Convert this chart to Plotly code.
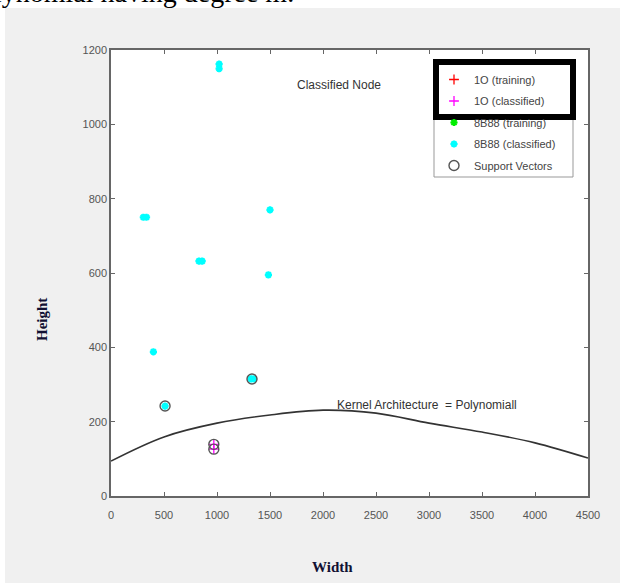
import plotly.graph_objects as go

# ---- data ----
x_ticks = [0, 500, 1000, 1500, 2000, 2500, 3000, 3500, 4000, 4500]
x_tick_labels = ["0", "500", "1000", "1500", "2000", "2500", "3000", "3500", "4000", "4500"]
y_ticks = [0, 200, 400, 600, 800, 1000, 1200]

o_train_x = [None]
o_train_y = [None]
o_class_x = [970, 970]
o_class_y = [139, 126]

b_train_x = [None]
b_train_y = [None]
b_class_x = [1020, 1020, 305, 335, 1500, 830, 860, 1485, 400, 510, 1320, 1345]
b_class_y = [1162, 1150, 750, 750, 770, 632, 632, 595, 388, 242, 315, 315]

sv_x = [510, 1330, 970, 970]
sv_y = [242, 315, 139, 126]

curve_x = [0, 500, 1000, 1500, 2000, 2500, 3000, 3500, 4000, 4500]
curve_y = [94, 159, 196, 218, 231, 223, 196, 172, 143, 102]

# ---- figure ----
W, H = 620, 583
L, R, T, B = 111, 32, 50, 87
PW, PH = W - L - R, H - T - B


def px(xp):
    return (xp - L) / PW


def py(yp):
    return (H - B - yp) / PH


fig = go.Figure()
fig.add_trace(go.Scatter(x=curve_x, y=curve_y, mode="lines", line=dict(color="#333333", width=1.6, shape="spline"),
                         showlegend=False, hoverinfo="skip"))
fig.add_trace(go.Scatter(x=o_train_x, y=o_train_y, mode="markers", name="1O (training)", legendgroup="a",
                         marker=dict(symbol="cross-thin", size=7, color="red", line=dict(color="red", width=1.3))))
fig.add_trace(go.Scatter(x=o_class_x, y=o_class_y, mode="markers", name="1O (classified)", legendgroup="b",
                         marker=dict(symbol="cross-thin", size=7, color="magenta",
                                     line=dict(color="magenta", width=1.3))))
fig.add_trace(go.Scatter(x=b_train_x, y=b_train_y, mode="markers", name="8B88 (training)", legendgroup="c",
                         marker=dict(symbol="asterisk", size=6, color="#00ee00", line=dict(color="#00ee00", width=2))))
fig.add_trace(go.Scatter(x=b_class_x, y=b_class_y, mode="markers", name="8B88 (classified)", legendgroup="d",
                         marker=dict(symbol="asterisk", size=6, color="cyan", line=dict(color="cyan", width=2.2))))
fig.add_trace(go.Scatter(x=sv_x, y=sv_y, mode="markers", name="Support Vectors", legendgroup="e",
                         marker=dict(symbol="circle-open", size=10, color="#555555",
                                     line=dict(color="#555555", width=1.4))))

axis_common = dict(showgrid=False, zeroline=False, showline=True, mirror="ticks", linecolor="#666666",
                   linewidth=1.5, ticks="inside", ticklen=4, tickcolor="#666666",
                   tickfont=dict(family="Arial", size=11, color="#555555"))

fig.update_xaxes(range=[0, 4500], tickvals=x_ticks, ticktext=x_tick_labels, ticklabelstandoff=8, **axis_common)
fig.update_yaxes(range=[0, 1200], tickvals=y_ticks, **axis_common)

fig.update_layout(
    width=W, height=H,
    margin=dict(l=L, r=R, t=T, b=B, autoexpand=False),
    paper_bgcolor="#f0f0f0", plot_bgcolor="white",
    font=dict(family="Arial", color="#333333"),
    legend=dict(x=px(434), y=py(65), xanchor="left", yanchor="top", bgcolor="rgba(0,0,0,0)",
                borderwidth=0, font=dict(family="Arial", size=11, color="#444444"),
                itemwidth=30, tracegroupgap=2.5),
    shapes=[
        dict(type="rect", xref="paper", yref="paper", x0=px(-5), x1=px(5), y0=py(590), y1=py(-5),
             fillcolor="white", line=dict(width=0), layer="above"),
        dict(type="rect", xref="paper", yref="paper", x0=px(-5), x1=px(625), y0=py(8), y1=py(-5),
             fillcolor="white", line=dict(width=0), layer="above"),
        # legend box
        dict(type="rect", xref="paper", yref="paper", x0=px(434), x1=px(573), y0=py(177), y1=py(62),
             fillcolor="white", line=dict(color="#999999", width=1), layer="above"),
        # thick highlight box
        dict(type="rect", xref="paper", yref="paper", x0=px(436), x1=px(573), y0=py(117), y1=py(62),
             fillcolor="rgba(0,0,0,0)", line=dict(color="black", width=6), layer="above"),
    ],
    annotations=[
        dict(text="olynomial having degree m.", xref="paper", yref="paper", x=px(-22), y=py(10),
             xanchor="left", yanchor="bottom", showarrow=False,
             font=dict(family="Liberation Serif", size=28, color="black")),
        dict(text="Classified Node", x=2151, y=1106, showarrow=False, xanchor="center", yanchor="middle",
             font=dict(family="Arial", size=12, color="#333333")),
        dict(text="Kernel Architecture  = Polynomiall", x=2113, y=245, showarrow=False, xanchor="left",
             yanchor="middle", font=dict(family="Arial", size=12, color="#333333")),
        dict(text="<b>Height</b>", xref="paper", yref="paper", x=px(42), y=py(320), textangle=-90,
             showarrow=False, xanchor="center", yanchor="middle",
             font=dict(family="Liberation Serif", size=15, color="#111133")),
        dict(text="<b>Width</b>", xref="paper", yref="paper", x=px(332), y=py(567),
             showarrow=False, xanchor="center", yanchor="middle",
             font=dict(family="Liberation Serif", size=15, color="#111133")),
    ],
)

fig.write_html("out.html", config={"displayModeBar": False},
               post_script="document.body.style.margin='0px';document.body.style.overflow='hidden';")
